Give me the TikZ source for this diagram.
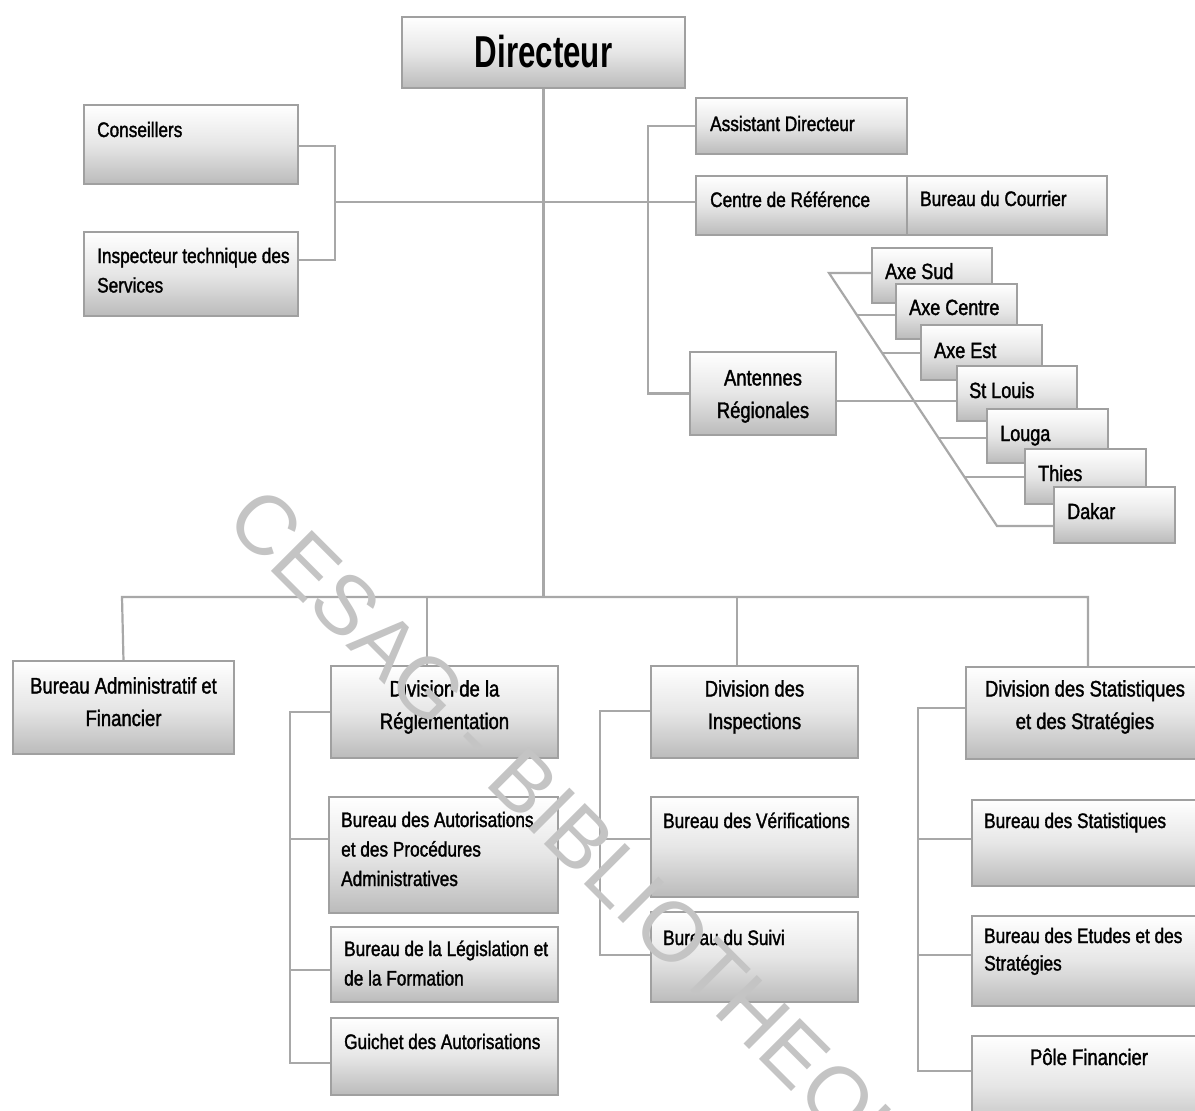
\documentclass[tikz,border=0pt]{standalone}
\usepackage{fontspec}
\setmainfont{Liberation Sans}[FakeStretch=0.82,FakeBold=1.5]
\newfontfamily\dirfont{Liberation Sans}[FakeStretch=0.70]
\newfontfamily\wmfont{Liberation Sans}
\usetikzlibrary{fit}
\definecolor{boxline}{HTML}{A0A0A0}
\definecolor{connc}{HTML}{A8A8A8}
\definecolor{boxbot}{HTML}{BBBBBB}
\definecolor{boxmid}{HTML}{E6E6E6}
\definecolor{wmc}{HTML}{C4C4C4}
\tikzset{
  box/.style={rectangle, draw=boxline, line width=2.5pt, top color=white,
    bottom color=boxbot, middle color=boxmid, inner sep=0pt, outer sep=0pt},
  conn/.style={draw=connc, line width=2.2pt},
  lbl/.style={inner sep=0pt, font=\fontsize{21}{29.5}\selectfont, align=left, anchor=base west},
  rlbl/.style={inner sep=0pt, font=\fontsize{22}{33}\selectfont, align=left, anchor=base west},
  hlbl/.style={inner sep=0pt, font=\fontsize{22.5}{32.5}\selectfont, align=center, anchor=base},
}
\begin{document}
\begin{tikzpicture}[x=1pt,y=-1pt]
\clip (0,0) rectangle (1195,1111);
\fill[white] (0,0) rectangle (1195,1111);
% ---------- junction coordinates ----------
\coordinate (barL) at (122,597);
\coordinate (barR) at (1088,597);
\coordinate (jL) at (335,260);
\coordinate (jLm) at (335,202);
\coordinate (jR) at (648,300);
\coordinate (jDR) at (427,597);
\coordinate (jDI) at (737,597);
\coordinate (dtop) at (829,273);
\coordinate (dbot) at (997,526);
\path[use as bounding box] (0,0) rectangle (1195,1111);
% ---------- upper boxes (placed first so connectors can refer to them) ----------
\node[box, fit={(402,17) (685,88)}] (dir) {};
\node[box, fit={(84,105) (298,184)}] (cons) {};
\node[box, fit={(84,232) (298,316)}] (insp) {};
\node[box, fit={(696,98) (907,154)}] (ad) {};
\node[box, fit={(696,176) (907,235)}] (cdr) {};
\node[box, fit={(907,176) (1107,235)}] (bdc) {};
\node[box, fit={(690,352) (836,435)}] (ant) {};
% ---------- connectors ----------
\draw[conn] (dir.south) -- (dir.south |- barL);
\draw[conn] (cons.east |- 0,146) -| (jL) -- (insp.east |- jL);
\draw[conn] (jLm) -- (cdr.west |- jLm);
\draw[conn] (ad.west) -| (jR) |- (ant.west);
\draw[conn] (ant.east |- 0,401) -- (957,401);
\draw[conn] (872,273) -- (dtop) -- (dbot) -- (1054,526);
\draw[conn] (856.9,315) -- (896,315);
\draw[conn] (882.1,353) -- (921,353);
\draw[conn] (938.6,438) -- (987,438);
\draw[conn] (964.5,477) -- (1025,477);
\draw[conn] (123.5,661) -- (barL) -- (barR) -- (1088,667);
\draw[conn] (jDR) -- (427,666);
\draw[conn] (jDI) -- (737,666);
\draw[conn] (331,712) -| (290,1063) -- (331,1063);
\draw[conn] (290,839) -- (329,839);
\draw[conn] (290,970) -- (331,970);
\draw[conn] (651,711) -| (600,955) -- (651,955);
\draw[conn] (600,839) -- (651,839);
\draw[conn] (966,708) -| (918,1071) -- (972,1071);
\draw[conn] (918,839) -- (972,839);
\draw[conn] (918,955) -- (972,955);
% redraw upper boxes over connectors
\node[box, fit={(402,17) (685,88)}] (dirb) {};
\node[box, fit={(84,105) (298,184)}] (consb) {};
\node[box, fit={(84,232) (298,316)}] (inspb) {};
\node[box, fit={(696,98) (907,154)}] (adb) {};
\node[box, fit={(696,176) (907,235)}] (cdrb) {};
\node[box, fit={(907,176) (1107,235)}] (bdcb) {};
\node[box, fit={(690,352) (836,435)}] (antb) {};
% regional boxes
\node[box, fit={(872,248) (992,303)}] (sud) {};
\node[rlbl] (tsud) at (885,279) {Axe Sud};
\node[box, fit={(896,284) (1017,339)}] (cen) {};
\node[rlbl] (tcen) at (909,315) {Axe Centre};
\node[box, fit={(921,325) (1042,380)}] (est) {};
\node[rlbl] (test) at (934,358) {Axe Est};
\node[box, fit={(957,366) (1077,421)}] (stl) {};
\node[rlbl] (tstl) at (969,398) {St Louis};
\node[box, fit={(987,409) (1108,463)}] (lou) {};
\node[rlbl] (tlou) at (1000,441) {Louga};
\node[box, fit={(1025,449) (1146,504)}] (thi) {};
\node[rlbl] (tthi) at (1038,481) {Thies};
\node[box, fit={(1054,487) (1175,543)}] (dak) {};
\node[rlbl] (tdak) at (1067,519) {Dakar};
% bottom boxes
\node[box, fit={(13,661) (234,754)}] (baf) {};
\node[box, fit={(331,666) (558,758)}] (dr) {};
\node[box, fit={(329,797) (558,913)}] (bap) {};
\node[box, fit={(331,927) (558,1002)}] (bleg) {};
\node[box, fit={(331,1018) (558,1095)}] (gui) {};
\node[box, fit={(651,666) (858,758)}] (di) {};
\node[box, fit={(651,797) (858,897)}] (bv) {};
\node[box, fit={(651,912) (858,1002)}] (bsu) {};
\node[box, fit={(966,667) (1215,759)}] (dss) {};
\node[box, fit={(972,800) (1215,886)}] (bst) {};
\node[box, fit={(972,916) (1215,1006)}] (bes) {};
\node[box, fit={(972,1036) (1215,1135)}] (pf) {};
% texts (multi-line nodes: anchor at the baseline of the last line)
\node[inner sep=0pt, anchor=base, font=\dirfont\bfseries\fontsize{44.7}{50}\selectfont] (tdir) at (543.5,67) {Directeur};
\node[lbl] (tcons) at (97,137) {Conseillers};
\node[lbl] (tinsp) at (97,292.5) {Inspecteur technique des\\Services};
\node[lbl] (tad) at (710,131) {Assistant Directeur};
\node[lbl] (tcdr) at (710,207) {Centre de Référence};
\node[lbl] (tbdc) at (920,206) {Bureau du Courrier};
\node[hlbl] (tant) at (763,418) {Antennes\\Régionales};
\node[hlbl] (tbaf) at (123.5,726) {Bureau Administratif et\\Financier};
\node[hlbl] (tdr) at (444.5,729) {Division de la\\Réglementation};
\node[lbl] (tbap) at (341,886) {Bureau des Autorisations\\et des Procédures\\Administratives};
\node[lbl] (tbleg) at (344,985.5) {Bureau de la Législation et\\de la Formation};
\node[lbl] (tgui) at (344,1049) {Guichet des Autorisations};
\node[hlbl] (tdi) at (754.5,729) {Division des\\Inspections};
\node[lbl] (tbv) at (663,828) {Bureau des Vérifications};
\node[lbl] (tbsu) at (663,945) {Bureau du Suivi};
\node[hlbl] (tdss) at (1085,729) {Division des Statistiques\\et des Stratégies};
\node[lbl] (tbst) at (984,828) {Bureau des Statistiques};
\node[lbl, font=\fontsize{21}{27.5}\selectfont] (tbes) at (984,970.5) {Bureau des Etudes et des\\Stratégies};
\node[hlbl] (tpf) at (1089,1065) {Pôle Financier};
% watermark
\node[inner sep=0pt, anchor=base west, rotate=-45, text=wmc,
  font=\wmfont\fontsize{84}{84}\selectfont] (wm) at (223,523) {CESAG - BIBLIOTHEQUE};
\end{tikzpicture}
\end{document}
